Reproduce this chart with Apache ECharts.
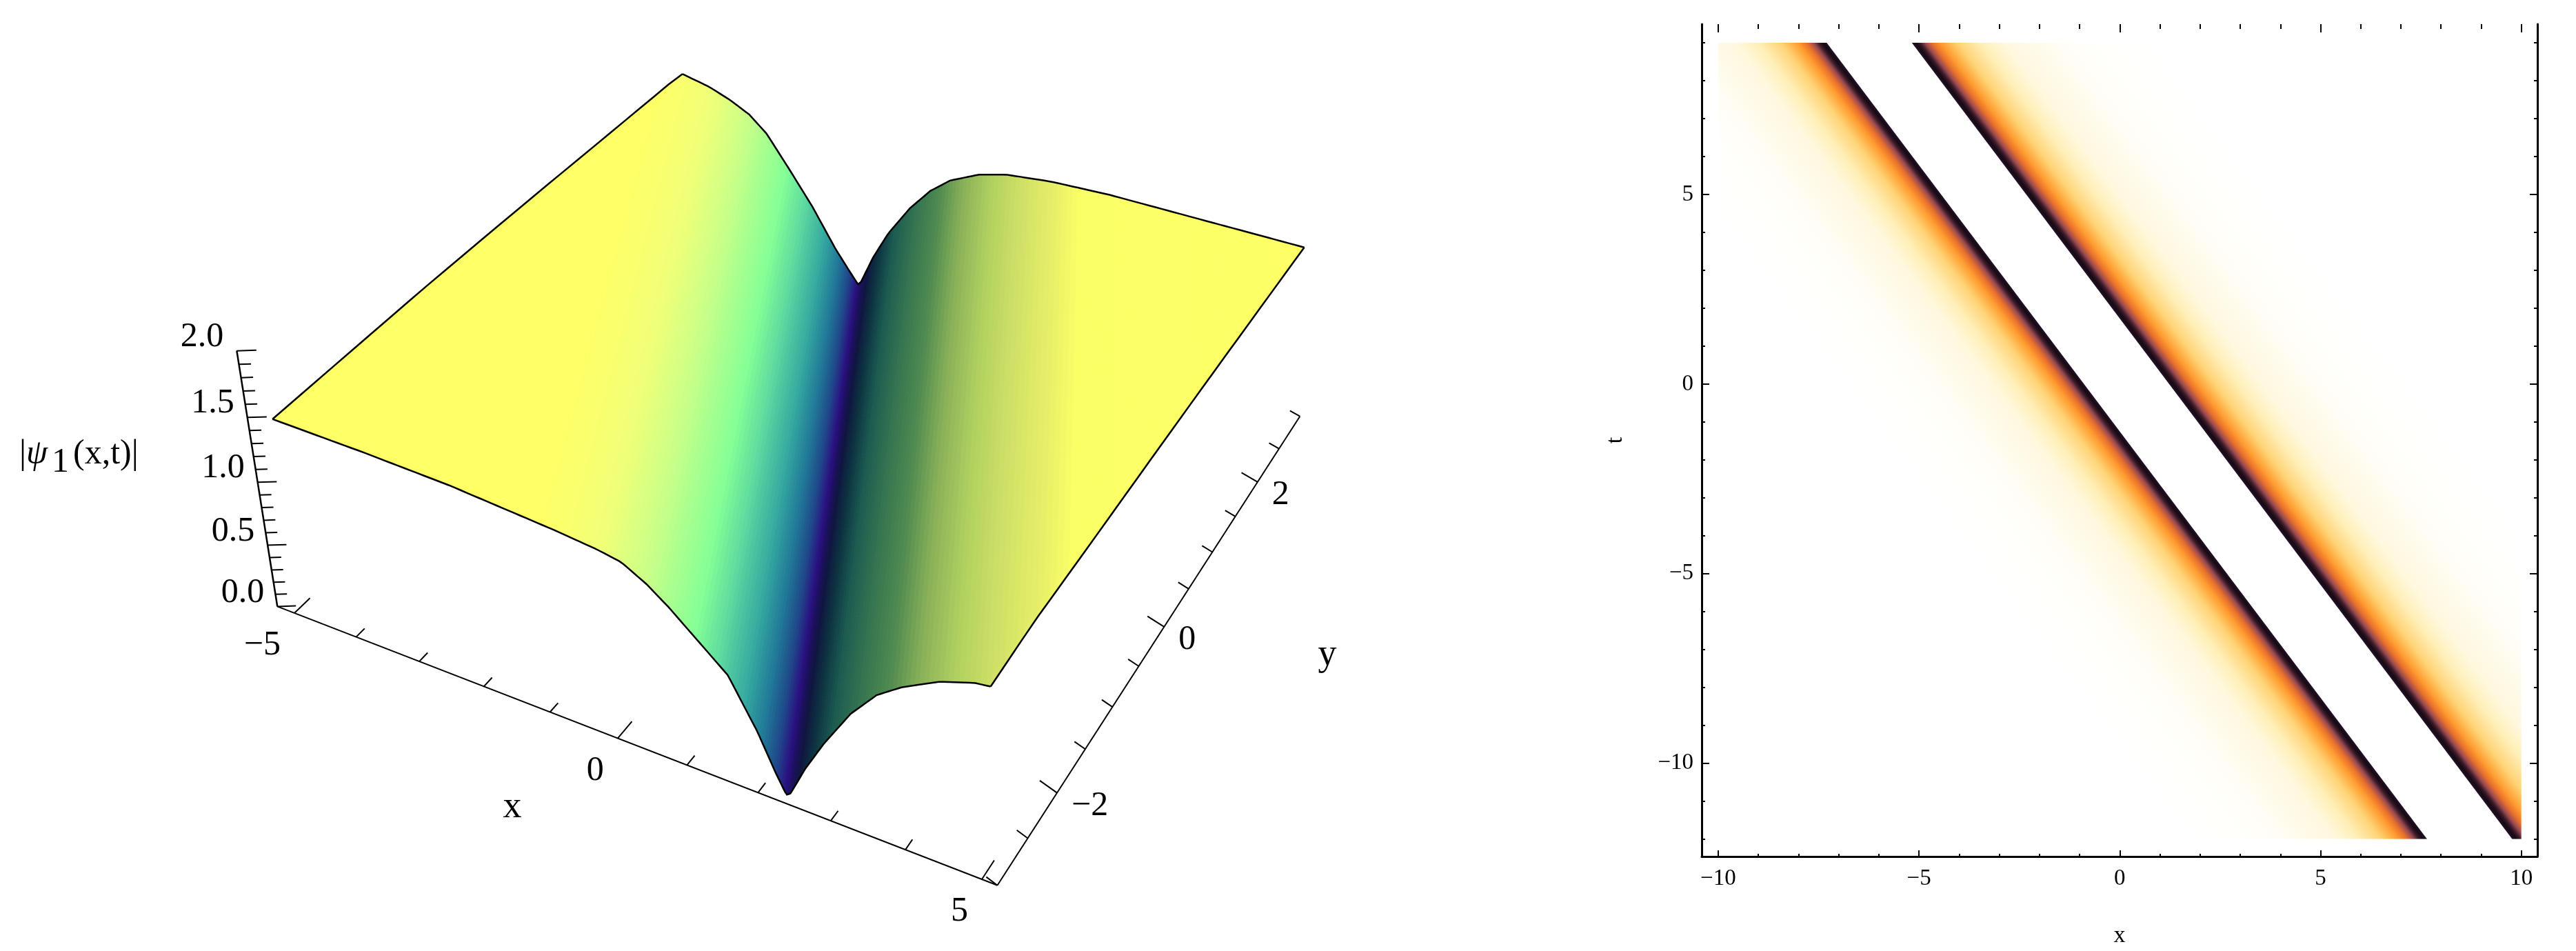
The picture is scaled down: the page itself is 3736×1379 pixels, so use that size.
<!DOCTYPE html>
<html>
<head>
<meta charset="utf-8">
<title>psi1 surface and density</title>
<script src="https://cdn.jsdelivr.net/npm/echarts@6/dist/echarts.min.js"></script>
<style>
html, body { margin: 0; padding: 0; background: #fff; }
#main { width: 3736px; height: 1379px; }
</style>
</head>
<body>
<div id="main"></div>
<script>
// left panel: height against distance from the valley,
// one row along the front edge (y=-3) and one along the back edge (y=3)
var profileU = [-7.6, -6, -4.7, -3.2, -2.6, -2.25, -1.9, -1.6, -1.2, -0.8, -0.4, -0.15, -0.02, 0, 0.05, 0.25, 0.5, 0.85, 1.18, 1.5, 1.96, 2.4, 3.1, 4, 5.5, 7.6];
var profileZFront = [1.49, 1.48, 1.46, 1.405, 1.375, 1.345, 1.25, 1.14, 0.97, 0.8, 0.46, 0.2, 0.08, 0.07, 0.09, 0.32, 0.56, 0.85, 1.05, 1.17, 1.3, 1.38, 1.43, 1.43, 1.45, 1.46];
var profileZBack = [1.49, 1.47, 1.43, 1.39, 1.33, 1.27, 1.19, 1.07, 0.82, 0.56, 0.26, 0.1, 0.02, 0.01, 0.04, 0.28, 0.52, 0.78, 0.97, 1.1, 1.21, 1.27, 1.31, 1.33, 1.33, 1.33];
var rampU = [-8, -3.4, -2.5, -1.9, -1.25, -0.9, -0.57, -0.33, -0.16, -0.02, 0.05, 0.17, 0.34, 0.61, 0.98, 1.34, 1.72, 2.17, 2.64, 3.2, 3.57, 8];
var rampColor = ['#ffff66', '#ffff66', '#f0ff78', '#c8ff88', '#84ff96', '#5cd8a0', '#35a8a0', '#207898', '#1f4a8a', '#2a1080', '#1c0f60', '#101540', '#0c3040', '#1a5a50', '#357550', '#4f8a50', '#88b058', '#b0d060', '#cfe066', '#e8f068', '#fbff66', '#ffff66'];
var valleyAtY = [2.4, -1.93];   // valley x at y = -3 and y = 3

var xTicks3d = [-5, -4, -3, -2, -1, 0, 1, 2, 3, 4, 5];
var xLabels3d = [-5, 0, 5];
var yTicks3d = [-3, -2.5, -2, -1.5, -1, -0.5, 0, 0.5, 1, 1.5, 2, 2.5, 3];
var yLabels3d = [-2, 0, 2];
var zTicks3d = [0, 0.1, 0.2, 0.3, 0.4, 0.5, 0.6, 0.7, 0.8, 0.9, 1, 1.1, 1.2, 1.3, 1.4, 1.5, 1.6, 1.7, 1.8, 1.9, 2];
var zLabels3d = ['0.0', '0.5', '1.0', '1.5', '2.0'];

// right panel: two bands x + 0.712 t = edge, fading out away from the edge
var densitySlope = 0.712;
var densityEdges = [[-0.89, -1], [1.23, 1]];
var densityT = [-12, 9];
var densityX = [-10, 10];
var densitySpread = [0, 0.1, 0.2, 0.33, 0.5, 0.72, 0.98, 1.15, 1.72, 2.28, 3.04, 3.6, 4.6, 6];
var densityColor = ['#24102c', '#160a12', '#3a1a2a', '#9a4a50', '#e8702c', '#ff9c30', '#ffc05a', '#ffd478', '#ffefb8', '#fff8de', '#fffbea', '#fffdf5', '#fffffb', '#ffffff'];

var majorX = [-10, -5, 0, 5, 10];
var minorX = [-10, -9, -8, -7, -6, -5, -4, -3, -2, -1, 0, 1, 2, 3, 4, 5, 6, 7, 8, 9, 10];
var majorT = [-10, -5, 0, 5];
var minorT = [-12, -11, -10, -9, -8, -7, -6, -5, -4, -3, -2, -1, 0, 1, 2, 3, 4, 5, 6, 7, 8, 9];

var SERIF = '"Liberation Serif", serif';
var NARROW = '"Liberation Sans Narrow", "Liberation Serif", sans-serif';

// camera for the left panel: ground plane corners in page pixels, then the vanishing point of z
var ground = { a: [427, 889], b: [1424, 1275], c: [1866, 598], d: [995, 340] };
var zVanish = [1150, 7283], zPersp = -0.0283;

var cam = (function () {
    var p = ground;
    var sx = p.a[0] - p.b[0] + p.c[0] - p.d[0], sy = p.a[1] - p.b[1] + p.c[1] - p.d[1];
    var dx1 = p.b[0] - p.c[0], dx2 = p.d[0] - p.c[0], dy1 = p.b[1] - p.c[1], dy2 = p.d[1] - p.c[1];
    var den = dx1 * dy2 - dx2 * dy1;
    var g = (sx * dy2 - dx2 * sy) / den, h = (dx1 * sy - sx * dy1) / den;
    return {
        a: p.b[0] - p.a[0] + g * p.b[0], b: p.d[0] - p.a[0] + h * p.d[0], c: p.a[0],
        d: p.b[1] - p.a[1] + g * p.b[1], e: p.d[1] - p.a[1] + h * p.d[1], f: p.a[1],
        g: g, h: h
    };
})();

function project(x, y, z, vx) {
    var u = (x + 5) / 10, v = (y + 3) / 6;
    var k = zPersp * z;
    var w = cam.g * u + cam.h * v + 1 + k;
    return [
        (cam.a * u + cam.b * v + cam.c + k * (vx || zVanish[0])) / w,
        (cam.d * u + cam.e * v + cam.f + k * zVanish[1]) / w
    ];
}

function lookup(xs, ys, x) {
    for (var i = 1; i < xs.length; i++) {
        if (x <= xs[i]) {
            return ys[i - 1] + (ys[i] - ys[i - 1]) * (x - xs[i - 1]) / (xs[i] - xs[i - 1]);
        }
    }
    return ys[ys.length - 1];
}

function rampAt(u) {
    for (var i = 1; i < rampU.length; i++) {
        if (u <= rampU[i]) {
            var t = (u - rampU[i - 1]) / (rampU[i] - rampU[i - 1]);
            return echarts.color.lerp(t, [rampColor[i - 1], rampColor[i]]);
        }
    }
    return rampColor[rampColor.length - 1];
}

function valleyX(y) {
    return valleyAtY[0] + (valleyAtY[1] - valleyAtY[0]) * (y + 3) / 6;
}

function clampX(x) {
    return Math.max(-5, Math.min(5, x));
}

// point on the surface at distance u from the valley, stopped at the x=-5 and x=5 edges
function surfacePoint(u, y) {
    var v = valleyX(y);
    var x = clampX(v + u);
    var f = (y + 3) / 6;
    var zf = lookup(profileU, profileZFront, x - v);
    var zb = lookup(profileU, profileZBack, x - v);
    return project(x, y, zf + (zb - zf) * f);
}

var ROWS = 24, COLS = 110;

// columns run along the valley, packed closer near it where colours change fastest
function columnU(i) {
    var t = i / COLS;
    return t * Math.abs(t) * 5 + t * 2.6;
}

var quads = [];
for (var r = 0; r < ROWS; r++) {
    for (var c = -COLS; c < COLS; c++) {
        quads.push([r, c]);
    }
}

function renderQuad(params, api) {
    var r = api.value(0), c = api.value(1);
    var y0 = -3 + 6 * r / ROWS, y1 = -3 + 6 * (r + 1) / ROWS;
    var u0 = columnU(c), u1 = columnU(c + 1);
    var col = rampAt((u0 + u1) / 2);
    var pts = [surfacePoint(u0, y0), surfacePoint(u1, y0), surfacePoint(u1, y1), surfacePoint(u0, y1)];
    // nothing to fill once both sides of the column are past the same edge
    if (clampX(valleyX(y0) + u0) === clampX(valleyX(y0) + u1) && clampX(valleyX(y1) + u0) === clampX(valleyX(y1) + u1)) {
        return null;
    }
    return {
        type: 'polygon',
        shape: { points: pts.map(function (p) { return api.coord(p); }) },
        style: { fill: col, stroke: col, lineWidth: 1 }
    };
}

function line3d(api, pts, width) {
    return {
        type: 'polyline',
        shape: { points: pts.map(function (p) { return api.coord(p); }) },
        style: { fill: 'none', stroke: '#000', lineWidth: width || 2 }
    };
}

function renderOutline(params, api) {
    var front = [], back = [], left = [], right = [], i;
    for (i = -COLS; i <= COLS; i++) {
        front.push(surfacePoint(columnU(i), -3));
        back.push(surfacePoint(columnU(i), 3));
    }
    for (i = 0; i <= ROWS; i++) {
        var y = -3 + 6 * i / ROWS;
        left.push(surfacePoint(-20, y));
        right.push(surfacePoint(20, y));
    }
    return {
        type: 'group',
        children: [line3d(api, front, 2.5), line3d(api, back, 2.5), line3d(api, left, 2.5), line3d(api, right, 2.5)]
    };
}

function text3d(api, p, str, dx, dy, align) {
    var c = api.coord(p);
    return {
        type: 'text',
        x: c[0] + dx,
        y: c[1] + dy,
        style: {
            text: String(str).replace('-', '\u2212'),
            fontFamily: SERIF,
            fontSize: 50,
            fill: '#000',
            align: align,
            verticalAlign: 'middle',
            textAlign: align,
            textVerticalAlign: 'middle'
        }
    };
}

// the z axis stands a little off the camera's vertical in the picture
function zAxisPoint(x, y, z) {
    return project(x, y, z * 0.97, 1420);
}

function renderAxes3d(params, api) {
    var kids = [];
    var xEdge = 5.2, xStart = -5.28;
    kids.push(line3d(api, [project(xStart, -3, 0), project(xEdge, -3, 0)]));
    kids.push(line3d(api, [project(xEdge, -3, 0), project(xEdge, 3, 0)]));
    kids.push(line3d(api, [zAxisPoint(xStart, -3, 0), zAxisPoint(xStart, -3, 2)], 2.5));
    xTicks3d.forEach(function (x) {
        var len = xLabels3d.indexOf(x) >= 0 ? 0.2 : 0.11;
        kids.push(line3d(api, [project(x, -3, 0), project(x, -3 + len, 0)]));
    });
    yTicks3d.forEach(function (y) {
        var len = yLabels3d.indexOf(y) >= 0 ? 0.27 : 0.17;
        kids.push(line3d(api, [project(xEdge, y, 0), project(xEdge - len, y + len * 0.2, 0)]));
    });
    zTicks3d.forEach(function (z) {
        var major = zLabels3d.indexOf(z.toFixed(1)) >= 0;
        var len = major ? 0.21 : 0.13;
        kids.push(line3d(api, [zAxisPoint(xStart, -3, z), zAxisPoint(xStart + len, -3 + len * 0.35, z)]));
    });
    xLabels3d.forEach(function (x) {
        kids.push(text3d(api, project(x, -3, 0), x, -20, 47, 'right'));
    });
    yLabels3d.forEach(function (y) {
        kids.push(text3d(api, project(xEdge, y, 0), y, 21, 19, 'left'));
    });
    zLabels3d.forEach(function (z) {
        kids.push(text3d(api, zAxisPoint(xStart, -3, +z), z, -19, -20, 'right'));
    });
    return { type: 'group', children: kids };
}

function renderBand(params, api) {
    var edge = api.value(0), dir = api.value(1);
    var span = densitySpread[densitySpread.length - 1];
    var k = densitySlope;
    function at(u, t) { return api.coord([u - k * t, t]); }
    var tTop = densityT[1], tBot = densityT[0];
    var l1 = at(edge, tTop), l2 = at(edge, tBot), far = at(edge + dir * span, tBot);
    var dx = l2[0] - l1[0], dy = l2[1] - l1[1], len = Math.sqrt(dx * dx + dy * dy);
    var nx = -dy / len, ny = dx / len;
    var proj = (far[0] - l2[0]) * nx + (far[1] - l2[1]) * ny;
    var stops = densitySpread.map(function (d, i) {
        return { offset: d / span, color: densityColor[i] };
    });
    var fill = new echarts.graphic.LinearGradient(l2[0], l2[1], l2[0] + nx * proj, l2[1] + ny * proj, stops, true);
    var c0 = api.coord([densityX[0], tTop]), c1 = api.coord([densityX[1], tBot]);
    return {
        type: 'polygon',
        shape: { points: [l1, l2, far, at(edge + dir * span, tTop)] },
        style: { fill: fill },
        clipPath: { type: 'rect', shape: { x: c0[0], y: c0[1], width: c1[0] - c0[0], height: c1[1] - c0[1] } }
    };
}

function minusLabel(v) {
    return v < 0 ? '\u2212' + Math.abs(v) : String(v);
}

function frameAxis(pos, isX, values, tickLen, extra) {
    var range = isX ? [-10.41, 10.4] : [-12.46, 9.49];
    var ax = {
        type: 'value',
        gridIndex: 0,
        position: pos,
        min: range[0],
        max: range[1],
        splitLine: { show: false },
        axisLine: { show: false, onZero: false, lineStyle: { color: '#000', width: 3 } },
        axisTick: { show: true, inside: true, length: tickLen, customValues: values, lineStyle: { color: '#000', width: 2 } },
        axisLabel: { show: false }
    };
    return extra ? echarts.util.merge(ax, extra, true) : ax;
}

var nameStyle = { fontFamily: SERIF, fontSize: 34, color: '#000' };

var option = {
    animation: false,
    backgroundColor: '#fff',
    title: {
        left: 28,
        top: 622,
        padding: 0,
        text: '|{psi|\u03c8}{sub|1}(x,t)|',
        textStyle: {
            fontFamily: SERIF,
            fontSize: 50,
            fontWeight: 'normal',
            color: '#000',
            rich: {
                psi: { fontFamily: SERIF, fontSize: 50, fontStyle: 'italic', color: '#000' },
                sub: { fontFamily: SERIF, fontSize: 50, color: '#000', padding: [24, 6, 0, 6] }
            }
        }
    },
    graphic: [
        { type: 'text', x: 743, y: 1171, style: { text: 'x', fontFamily: SERIF, fontSize: 54, fill: '#000', align: 'center', verticalAlign: 'middle' } },
        { type: 'text', x: 1925, y: 950, style: { text: 'y', fontFamily: SERIF, fontSize: 54, fill: '#000', align: 'center', verticalAlign: 'middle' } }
    ],
    grid: [
        { left: 2468, right: 56, top: 35, bottom: 132 },
        { left: 0, right: 0, top: 0, bottom: 0 }
    ],
    xAxis: [
        frameAxis('bottom', true, majorX, 9, {
            axisLine: { show: true },
            axisLabel: { show: true, margin: 16, customValues: majorX, fontFamily: NARROW, fontSize: 33, color: '#000', formatter: minusLabel },
            name: 'x', nameLocation: 'middle', nameGap: 98, nameTextStyle: nameStyle
        }),
        frameAxis('bottom', true, minorX, 4),
        frameAxis('top', true, majorX, 12),
        frameAxis('top', true, minorX, 7),
        { type: 'value', gridIndex: 1, min: 0, max: 3736, show: false }
    ],
    yAxis: [
        frameAxis('left', false, majorT, 11, {
            axisLine: { show: true },
            axisLabel: { show: true, margin: 12, customValues: majorT, fontFamily: NARROW, fontSize: 33, color: '#000', formatter: minusLabel },
            name: 't', nameLocation: 'middle', nameGap: 108, nameTextStyle: nameStyle
        }),
        frameAxis('left', false, minorT, 5),
        frameAxis('right', false, majorT, 11, { axisLine: { show: true } }),
        frameAxis('right', false, minorT, 5),
        { type: 'value', gridIndex: 1, min: 0, max: 1379, inverse: true, show: false }
    ],
    series: [
        {
            type: 'custom',
            name: 'density',
            xAxisIndex: 0,
            yAxisIndex: 0,
            coordinateSystem: 'cartesian2d',
            renderItem: renderBand,
            data: densityEdges,
            silent: true,
            z: 1
        },
        {
            type: 'custom',
            name: 'axes3d',
            xAxisIndex: 4,
            yAxisIndex: 4,
            coordinateSystem: 'cartesian2d',
            renderItem: renderAxes3d,
            data: [[0, 0]],
            silent: true,
            clip: false,
            z: 1
        },
        {
            type: 'custom',
            name: 'surface',
            xAxisIndex: 4,
            yAxisIndex: 4,
            coordinateSystem: 'cartesian2d',
            renderItem: renderQuad,
            data: quads,
            progressive: 0,
            silent: true,
            clip: false,
            z: 2
        },
        {
            type: 'custom',
            name: 'outline',
            xAxisIndex: 4,
            yAxisIndex: 4,
            coordinateSystem: 'cartesian2d',
            renderItem: renderOutline,
            data: [[0, 0]],
            silent: true,
            clip: false,
            z: 3
        }
    ]
};

var myChart = echarts.init(document.getElementById('main'));
myChart.setOption(option);
</script>
</body>
</html>
